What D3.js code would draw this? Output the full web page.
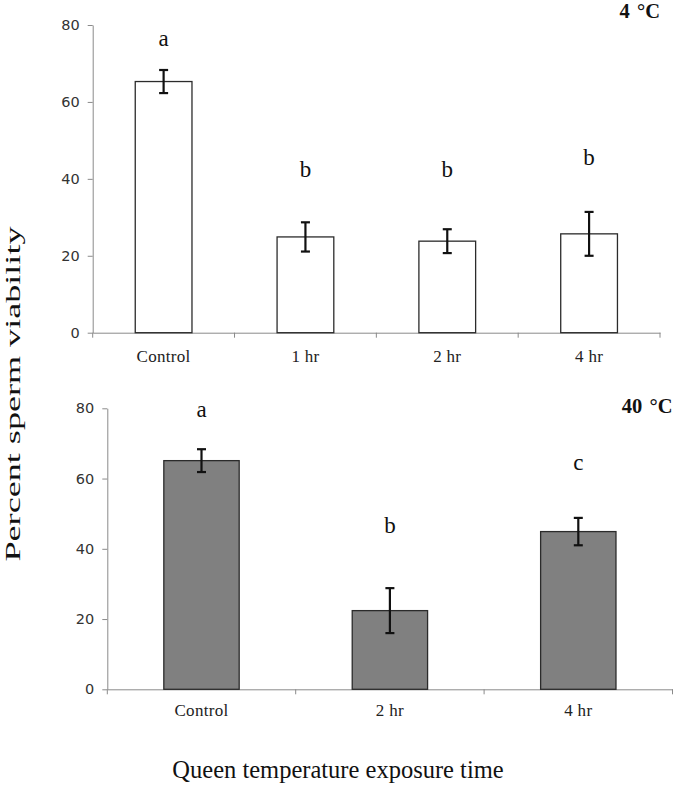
<!DOCTYPE html>
<html><head><meta charset="utf-8">
<script src="https://cdn.jsdelivr.net/npm/d3@7"></script>
<style>body{margin:0;background:#fff}svg{display:block}</style>
</head><body>
<svg id="chart" width="675" height="794"></svg>
<script>
// ---- data ----
const topCategories = ["Control", "1 hr", "2 hr", "4 hr"];
const topMeans = [65.3, 24.9, 23.8, 25.7];
const topErrors = [3.0, 3.8, 3.1, 5.7];
const topLetters = ["a", "b", "b", "b"];
const topLetterLevels = [74.5, 40.5, 40.5, 43.5];
const topTitle = "4 °C";

const botCategories = ["Control", "2 hr", "4 hr"];
const botMeans = [65.1, 22.4, 44.9];
const botErrors = [3.25, 6.4, 3.9];
const botLetters = ["a", "b", "c"];
const botLetterLevels = [77.5, 44.5, 62.5];
const botTitle = "40 °C";

const yTicks = [0, 20, 40, 60, 80];
const yLabel = "Percent sperm viability";
const xLabel = "Queen temperature exposure time";

const svg = d3.select("#chart");
const serif = "'Liberation Serif','Times New Roman',serif";
const sans = "'DejaVu Sans',Verdana,sans-serif";

function panel(cfg) {
  const x = d3.scaleBand().domain(cfg.cats).range([cfg.x0, cfg.x1]).padding(0);
  const y = d3.scaleLinear().domain([0, 80]).range([cfg.y0, cfg.y1]);
  const g = svg.append("g");
  const bw = x.bandwidth() * 0.4;

  // y axis
  const ya = g.append("g").attr("transform", `translate(${cfg.x0},0)`)
    .call(d3.axisLeft(y).tickValues(yTicks).tickSize(5).tickSizeOuter(0).tickPadding(8));
  ya.select(".domain").attr("stroke", "#8a8a8a");
  ya.selectAll(".tick line").attr("stroke", "#8a8a8a");
  ya.selectAll(".tick text").attr("font-family", sans).attr("font-size", 14.5).attr("fill", "#333");

  // x axis line + boundary ticks
  const xa = g.append("g").attr("transform", `translate(0,${cfg.y0})`)
    .call(d3.axisBottom(x).tickSize(0).tickSizeOuter(0).tickPadding(cfg.labelPad));
  xa.select(".domain").attr("stroke", "#8a8a8a");
  xa.selectAll(".tick text").attr("font-family", serif).attr("font-size", 17).attr("fill", "#222")
    .attr("letter-spacing", 0.3);
  const bounds = d3.range(cfg.cats.length + 1).map(i => cfg.x0 + i * x.step());
  xa.selectAll("line.bt").data(bounds).join("line").attr("class", "bt")
    .attr("x1", d => d).attr("x2", d => d).attr("y1", 0).attr("y2", 5)
    .attr("stroke", "#8a8a8a");

  // bars
  g.selectAll("rect.bar").data(cfg.means).join("rect").attr("class", "bar")
    .attr("x", (d, i) => x(cfg.cats[i]) + (x.bandwidth() - bw) / 2)
    .attr("width", bw)
    .attr("y", d => y(d))
    .attr("height", d => y(0) - y(d))
    .attr("fill", cfg.fill).attr("stroke", "#2b2b2b").attr("stroke-width", 1.3);

  // error bars
  const eb = g.selectAll("g.eb").data(cfg.means).join("g").attr("class", "eb")
    .attr("transform", (d, i) => `translate(${x(cfg.cats[i]) + x.bandwidth() / 2},0)`);
  eb.append("line").attr("y1", (d, i) => y(d + cfg.errs[i])).attr("y2", (d, i) => y(d - cfg.errs[i]));
  eb.append("line").attr("x1", -4.5).attr("x2", 4.5).attr("y1", (d, i) => y(d + cfg.errs[i])).attr("y2", (d, i) => y(d + cfg.errs[i]));
  eb.append("line").attr("x1", -4.5).attr("x2", 4.5).attr("y1", (d, i) => y(d - cfg.errs[i])).attr("y2", (d, i) => y(d - cfg.errs[i]));
  eb.selectAll("line").attr("stroke", "#111").attr("stroke-width", 2.2);

  // letters
  g.selectAll("text.let").data(cfg.letters).join("text").attr("class", "let")
    .attr("x", (d, i) => x(cfg.cats[i]) + x.bandwidth() / 2)
    .attr("y", (d, i) => y(cfg.levels[i]))
    .attr("text-anchor", "middle").attr("font-family", serif).attr("font-size", 23).attr("fill", "#111")
    .text(d => d);

  // title
  g.append("text").attr("x", cfg.x1).attr("y", cfg.titleY).attr("text-anchor", "end")
    .attr("font-family", serif).attr("font-size", 20.5).attr("font-weight", "bold").attr("fill", "#111")
    .attr("word-spacing", 2)
    .text(cfg.title);
}

panel({cats: topCategories, means: topMeans, errs: topErrors, letters: topLetters, levels: topLetterLevels,
  title: topTitle, x0: 92.7, x1: 660, y0: 332.7, y1: 25, fill: "#ffffff", labelPad: 17, titleY: 18});
panel({cats: botCategories, means: botMeans, errs: botErrors, letters: botLetters, levels: botLetterLevels,
  title: botTitle, x0: 107.3, x1: 672.5, y0: 689.3, y1: 408.3, fill: "#808080", labelPad: 15, titleY: 413});

// axis titles
svg.append("text").attr("transform", "translate(20,394) rotate(-90)")
  .attr("text-anchor", "middle").attr("font-family", serif).attr("font-size", 22).attr("fill", "#111")
  .attr("textLength", 335).attr("lengthAdjust", "spacingAndGlyphs")
  .text(yLabel);
svg.append("text").attr("x", 338).attr("y", 778).attr("text-anchor", "middle")
  .attr("font-family", serif).attr("font-size", 24.5).attr("fill", "#111")
  .text(xLabel);
</script>
</body></html>
